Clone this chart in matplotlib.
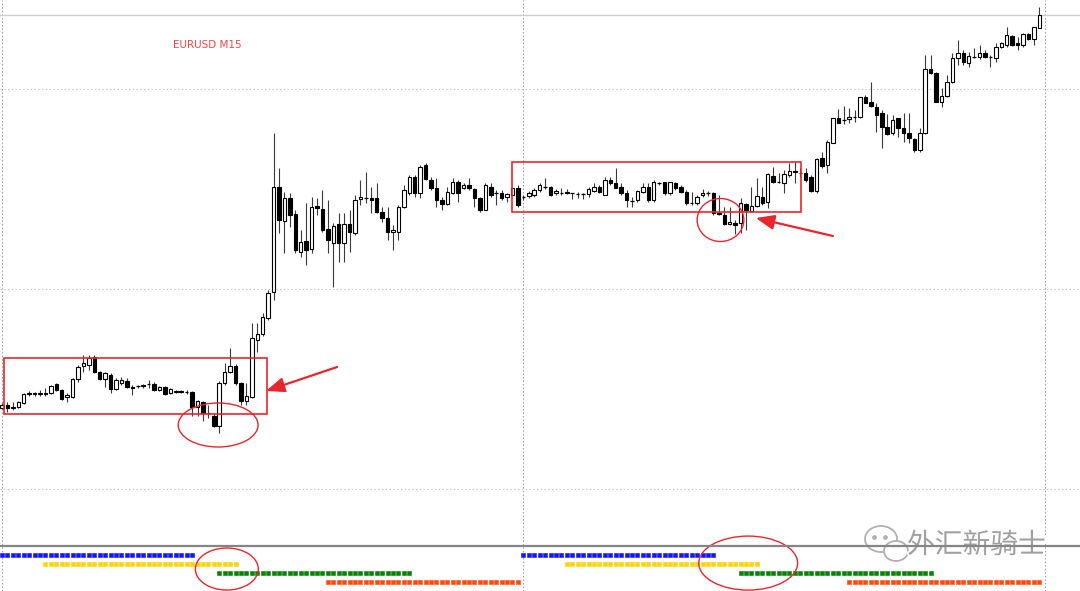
import matplotlib
matplotlib.use("Agg")
import matplotlib.pyplot as plt
import matplotlib.patheffects as pe
from matplotlib.patches import Rectangle, Ellipse
from matplotlib.lines import Line2D
import numpy as np

# ── EURUSD M15 candles ───────────────────────────────────────────────────────
opens = [
    1.12562, 1.12568, 1.12562, 1.12564, 1.12572, 1.12590, 1.12592, 1.12590, 1.12592, 1.12592,
    1.12610, 1.12598, 1.12584, 1.12584, 1.12620, 1.12646, 1.12648, 1.12664, 1.12634, 1.12620,
    1.12628, 1.12600, 1.12612, 1.12616, 1.12604, 1.12606, 1.12606, 1.12610, 1.12610, 1.12598,
    1.12604, 1.12592, 1.12594, 1.12596, 1.12594, 1.12594, 1.12564, 1.12574, 1.12552, 1.12546,
    1.12526, 1.12612, 1.12634, 1.12646, 1.12612, 1.12576, 1.12584, 1.12698, 1.12710, 1.12742,
    1.12794, 1.13004, 1.12936, 1.12982, 1.12950, 1.12874, 1.12896, 1.12880, 1.12966, 1.12960,
    1.12920, 1.12892, 1.12930, 1.12892, 1.12930, 1.12912, 1.12980, 1.12982, 1.12982, 1.12982,
    1.12954, 1.12942, 1.12914, 1.12914, 1.12964, 1.12992, 1.13024, 1.12992, 1.13048, 1.13018,
    1.13002, 1.12978, 1.12970, 1.12992, 1.13014, 1.13002, 1.13008, 1.13000, 1.12982, 1.12958,
    1.13004, 1.12992, 1.12992, 1.12984, 1.12988, 1.13002, 1.12984, 1.12986, 1.12988, 1.12998,
    1.13004, 1.13004, 1.12992, 1.12992, 1.12994, 1.12992, 1.12990, 1.12990, 1.12990, 1.12996,
    1.13004, 1.12988, 1.13018, 1.13012, 1.13004, 1.12992, 1.12976, 1.12978, 1.12994, 1.13004,
    1.12978, 1.13012, 1.13014, 1.12992, 1.13012, 1.13004, 1.12994, 1.12972, 1.12972, 1.12988,
    1.12992, 1.12992, 1.12952, 1.12948, 1.12930, 1.12932, 1.12932, 1.12970, 1.12956, 1.12966,
    1.12984, 1.12974, 1.13026, 1.13014, 1.13012, 1.13028, 1.13036, 1.13032, 1.13032, 1.13024,
    1.12996, 1.13062, 1.13048, 1.13092, 1.13142, 1.13138, 1.13140, 1.13144, 1.13144, 1.13184,
    1.13174, 1.13164, 1.13152, 1.13124, 1.13112, 1.13142, 1.13122, 1.13112, 1.13100, 1.13078,
    1.13112, 1.13240, 1.13232, 1.13174, 1.13186, 1.13214, 1.13262, 1.13272, 1.13252, 1.13264,
    1.13264, 1.13272, 1.13264, 1.13262, 1.13284, 1.13288, 1.13306, 1.13292, 1.13288, 1.13310,
    1.13300, 1.13322,
]
highs = [
    1.12572, 1.12574, 1.12574, 1.12576, 1.12592, 1.12596, 1.12594, 1.12598, 1.12602, 1.12608,
    1.12612, 1.12600, 1.12592, 1.12622, 1.12648, 1.12668, 1.12668, 1.12668, 1.12636, 1.12634,
    1.12632, 1.12622, 1.12624, 1.12622, 1.12608, 1.12608, 1.12610, 1.12618, 1.12614, 1.12606,
    1.12606, 1.12602, 1.12598, 1.12598, 1.12598, 1.12596, 1.12578, 1.12576, 1.12568, 1.12552,
    1.12616, 1.12652, 1.12682, 1.12650, 1.12614, 1.12612, 1.12732, 1.12732, 1.12752, 1.12798,
    1.13112, 1.13042, 1.12994, 1.12992, 1.12958, 1.12918, 1.12972, 1.12984, 1.12982, 1.12998,
    1.12978, 1.12932, 1.12952, 1.12952, 1.12958, 1.12988, 1.13018, 1.13034, 1.13004, 1.13012,
    1.12964, 1.12964, 1.12928, 1.12968, 1.13008, 1.13028, 1.13028, 1.13048, 1.13052, 1.13024,
    1.13022, 1.12984, 1.13004, 1.13022, 1.13018, 1.13012, 1.13022, 1.13002, 1.12984, 1.13012,
    1.13012, 1.12998, 1.12998, 1.12992, 1.13002, 1.13008, 1.12988, 1.12996, 1.13002, 1.13012,
    1.13022, 1.13006, 1.13000, 1.13002, 1.13000, 1.12992, 1.12994, 1.12992, 1.13004, 1.13012,
    1.13008, 1.13024, 1.13024, 1.13042, 1.13012, 1.12998, 1.12984, 1.12998, 1.13012, 1.13012,
    1.13018, 1.13014, 1.13014, 1.13014, 1.13014, 1.13008, 1.12998, 1.12994, 1.12988, 1.13000,
    1.12996, 1.12994, 1.12988, 1.12964, 1.12964, 1.12938, 1.12982, 1.12972, 1.13004, 1.13022,
    1.13004, 1.13032, 1.13044, 1.13032, 1.13038, 1.13052, 1.13054, 1.13042, 1.13042, 1.13028,
    1.13062, 1.13074, 1.13098, 1.13142, 1.13160, 1.13166, 1.13162, 1.13158, 1.13184, 1.13188,
    1.13214, 1.13172, 1.13158, 1.13150, 1.13148, 1.13142, 1.13152, 1.13152, 1.13102, 1.13122,
    1.13268, 1.13268, 1.13234, 1.13202, 1.13228, 1.13272, 1.13298, 1.13278, 1.13274, 1.13282,
    1.13288, 1.13278, 1.13268, 1.13292, 1.13294, 1.13324, 1.13308, 1.13304, 1.13312, 1.13312,
    1.13324, 1.13364,
]
lows = [
    1.12560, 1.12554, 1.12558, 1.12562, 1.12570, 1.12586, 1.12586, 1.12586, 1.12586, 1.12590,
    1.12596, 1.12578, 1.12574, 1.12582, 1.12614, 1.12634, 1.12638, 1.12632, 1.12618, 1.12604,
    1.12592, 1.12598, 1.12608, 1.12602, 1.12588, 1.12602, 1.12602, 1.12602, 1.12596, 1.12596,
    1.12588, 1.12590, 1.12592, 1.12592, 1.12590, 1.12546, 1.12546, 1.12536, 1.12542, 1.12524,
    1.12512, 1.12608, 1.12632, 1.12608, 1.12568, 1.12568, 1.12582, 1.12674, 1.12706, 1.12738,
    1.12778, 1.12912, 1.12872, 1.12924, 1.12872, 1.12864, 1.12848, 1.12872, 1.12948, 1.12914,
    1.12872, 1.12804, 1.12854, 1.12854, 1.12874, 1.12908, 1.12968, 1.12972, 1.12952, 1.12952,
    1.12934, 1.12898, 1.12878, 1.12898, 1.12962, 1.12988, 1.12984, 1.12982, 1.13018, 1.12998,
    1.12964, 1.12958, 1.12968, 1.12990, 1.12974, 1.13000, 1.12998, 1.12964, 1.12954, 1.12958,
    1.12984, 1.12968, 1.12978, 1.12974, 1.12988, 1.12964, 1.12978, 1.12982, 1.12984, 1.12994,
    1.13000, 1.12986, 1.12988, 1.12988, 1.12990, 1.12980, 1.12982, 1.12980, 1.12984, 1.12994,
    1.12992, 1.12988, 1.13008, 1.13002, 1.12988, 1.12964, 1.12964, 1.12974, 1.12992, 1.12974,
    1.12974, 1.13008, 1.12988, 1.12988, 1.12998, 1.12992, 1.12968, 1.12968, 1.12968, 1.12984,
    1.12986, 1.12948, 1.12948, 1.12928, 1.12928, 1.12910, 1.12912, 1.12918, 1.12956, 1.12964,
    1.12968, 1.12962, 1.13012, 1.13012, 1.12992, 1.13024, 1.13012, 1.13024, 1.13014, 1.12994,
    1.12992, 1.13042, 1.13032, 1.13092, 1.13132, 1.13130, 1.13132, 1.13134, 1.13142, 1.13172,
    1.13164, 1.13114, 1.13082, 1.13108, 1.13108, 1.13104, 1.13094, 1.13092, 1.13074, 1.13074,
    1.13110, 1.13230, 1.13174, 1.13164, 1.13184, 1.13212, 1.13248, 1.13248, 1.13244, 1.13262,
    1.13260, 1.13262, 1.13244, 1.13254, 1.13282, 1.13284, 1.13286, 1.13278, 1.13284, 1.13298,
    1.13288, 1.13322,
]
closes = [
    1.12568, 1.12562, 1.12564, 1.12574, 1.12590, 1.12592, 1.12590, 1.12592, 1.12590, 1.12606,
    1.12598, 1.12580, 1.12588, 1.12620, 1.12644, 1.12652, 1.12662, 1.12634, 1.12620, 1.12632,
    1.12600, 1.12618, 1.12618, 1.12604, 1.12602, 1.12606, 1.12608, 1.12610, 1.12598, 1.12604,
    1.12590, 1.12600, 1.12596, 1.12594, 1.12594, 1.12564, 1.12576, 1.12552, 1.12552, 1.12526,
    1.12612, 1.12634, 1.12646, 1.12612, 1.12576, 1.12586, 1.12702, 1.12710, 1.12744, 1.12792,
    1.13004, 1.12938, 1.12982, 1.12948, 1.12878, 1.12894, 1.12878, 1.12964, 1.12962, 1.12918,
    1.12898, 1.12926, 1.12892, 1.12930, 1.12914, 1.12978, 1.12984, 1.12982, 1.12978, 1.12954,
    1.12942, 1.12914, 1.12918, 1.12964, 1.12998, 1.13024, 1.12992, 1.13044, 1.13020, 1.13002,
    1.12978, 1.12970, 1.12994, 1.13014, 1.12992, 1.13008, 1.13002, 1.12982, 1.12958, 1.13008,
    1.12988, 1.12992, 1.12982, 1.12990, 1.13002, 1.12968, 1.12984, 1.12992, 1.12998, 1.13008,
    1.13004, 1.12988, 1.12996, 1.12992, 1.12992, 1.12992, 1.12990, 1.12990, 1.13000, 1.13004,
    1.12994, 1.13018, 1.13012, 1.13002, 1.12992, 1.12978, 1.12976, 1.12996, 1.13004, 1.12978,
    1.13014, 1.13012, 1.12992, 1.13014, 1.13002, 1.12994, 1.12972, 1.12972, 1.12984, 1.12992,
    1.12992, 1.12952, 1.12950, 1.12930, 1.12934, 1.12928, 1.12972, 1.12958, 1.12966, 1.12986,
    1.12972, 1.13030, 1.13014, 1.13014, 1.13030, 1.13036, 1.13034, 1.13032, 1.13018, 1.12996,
    1.13060, 1.13046, 1.13094, 1.13142, 1.13132, 1.13138, 1.13144, 1.13144, 1.13184, 1.13172,
    1.13166, 1.13148, 1.13124, 1.13110, 1.13138, 1.13122, 1.13112, 1.13102, 1.13078, 1.13112,
    1.13240, 1.13232, 1.13174, 1.13186, 1.13214, 1.13262, 1.13272, 1.13254, 1.13266, 1.13264,
    1.13272, 1.13264, 1.13264, 1.13284, 1.13292, 1.13308, 1.13288, 1.13288, 1.13310, 1.13300,
    1.13324, 1.13348,
]

# day separators (bar index) and price grid levels
day_starts = [0, 96, 192]
grid_prices = [1.1240, 1.1280, 1.1320]

# session indicator in the sub window: first bar of each session, per day
session_colors = ["#1414ff", "#ffd400", "#078207", "#ff4a0a"]
session_starts = [[0, 96], [8, 104], [40, 136], [60, 156]]
session_bars = 36

RED = "#e8262d"

o = np.array(opens)
h = np.array(highs)
l = np.array(lows)
c = np.array(closes)
x = np.arange(len(o))

fig = plt.figure(figsize=(10.8, 5.91), dpi=100)
ax = fig.add_axes([0, 46 / 591, 1, 545 / 591])
sub = fig.add_axes([0, 0, 1, 46 / 591])

for a in (ax, sub):
    a.set_xlim(-0.37, 198.5)
    a.set_xticks([])
    a.set_yticks([])
    for s in a.spines.values():
        s.set_visible(False)
    for d in day_starts:
        a.axvline(d, color="#9a9a9a", lw=0.8, ls=(0, (1.2, 2.0)), zorder=1)

ax.set_ylim(1.12288, 1.13378)
for p in grid_prices:
    ax.axhline(p, color="#c2c2c2", lw=0.8, ls=(0, (1.2, 2.2)), zorder=1)
ax.axhline(c[-1], color="#cccccc", lw=0.9, zorder=1)

# candles
ax.vlines(x, l, h, color="#3a3a3a", lw=0.8, zorder=2)
up, dn, eq = c > o, c < o, c == o
ax.bar(x[up], (c - o)[up], bottom=o[up], width=0.64, facecolor="white",
       edgecolor="black", linewidth=0.8, zorder=3)
ax.bar(x[dn], (o - c)[dn], bottom=c[dn], width=0.64, facecolor="black",
       edgecolor="black", linewidth=0.8, zorder=3)
ax.hlines(o[eq], x[eq] - 0.32, x[eq] + 0.32, color="black", lw=0.9, zorder=3)

# annotations on the price chart
ax.add_patch(Rectangle((0.4, 1.12550), 48.4, 0.00112, fill=False, ec=RED, lw=1.2, zorder=4))
ax.add_patch(Rectangle((93.85, 1.12955), 53.2, 0.00099, fill=False, ec=RED, lw=1.2, zorder=4))
ax.add_patch(Ellipse((39.8, 1.12528), 14.7, 0.00088, fill=False, ec=RED, lw=1.0, zorder=4))
ax.add_patch(Ellipse((132.3, 1.12938), 8.6, 0.00086, fill=False, ec=RED, lw=1.0, zorder=4))
arrow = dict(arrowstyle="-|>,head_length=0.8,head_width=0.32", color=RED, lw=1.6,
             mutation_scale=14, shrinkA=0, shrinkB=0)
ax.annotate("", xy=(48.6, 1.12596), xytext=(61.7, 1.12644), arrowprops=arrow, zorder=5)
ax.annotate("", xy=(138.8, 1.12942), xytext=(153.0, 1.12906), arrowprops=arrow, zorder=5)

# session dots
sub.set_ylim(4, -1.11)
for row, (col, starts) in enumerate(zip(session_colors, session_starts)):
    for s in starts:
        xs = np.arange(s, s + session_bars)
        sub.plot(xs, np.full(len(xs), row), ls="none", marker="s", ms=2.7,
                 mec=col, mfc=col, mew=0.4, zorder=3)
sub.add_patch(Ellipse((41.4, 1.56), 11.6, 4.67, fill=False, ec=RED, lw=1.0,
                      zorder=6, clip_on=False))
sub.add_patch(Ellipse((137.4, 0.9), 18.2, 6.0, fill=False, ec=RED, lw=1.0,
                      zorder=6, clip_on=False))

# window separator
fig.add_artist(Line2D([0, 1], [1 - 545.5 / 591] * 2, color="#858585", lw=1.6))

fig.text(173 / 1080, 1 - 45 / 591, "EURUSD M15", color="#f04646", fontsize=7.5,
         va="center", ha="left")

# watermark
ov = fig.add_axes([0, 0, 1, 1], facecolor="none")
ov.set_xlim(0, 1080)
ov.set_ylim(591, 0)
ov.axis("off")
ov.add_patch(Ellipse((881, 539), 32, 26, fc="white", ec="#b0b0b0", lw=1.3, zorder=7))
ov.add_patch(Ellipse((896, 551), 24, 20, fc="white", ec="#b0b0b0", lw=1.3, zorder=8))
ov.plot([874, 885], [537, 537], ls="none", marker="o", ms=2.4, color="#b0b0b0", zorder=9)
ov.text(907, 545, "外汇新骑士", fontsize=20, color="#a0a0a0", va="center", ha="left",
        family=["Noto Sans CJK SC", "DejaVu Sans"], zorder=9,
        path_effects=[pe.withStroke(linewidth=2.5, foreground="white")])

fig.savefig("out.png", dpi=100)
